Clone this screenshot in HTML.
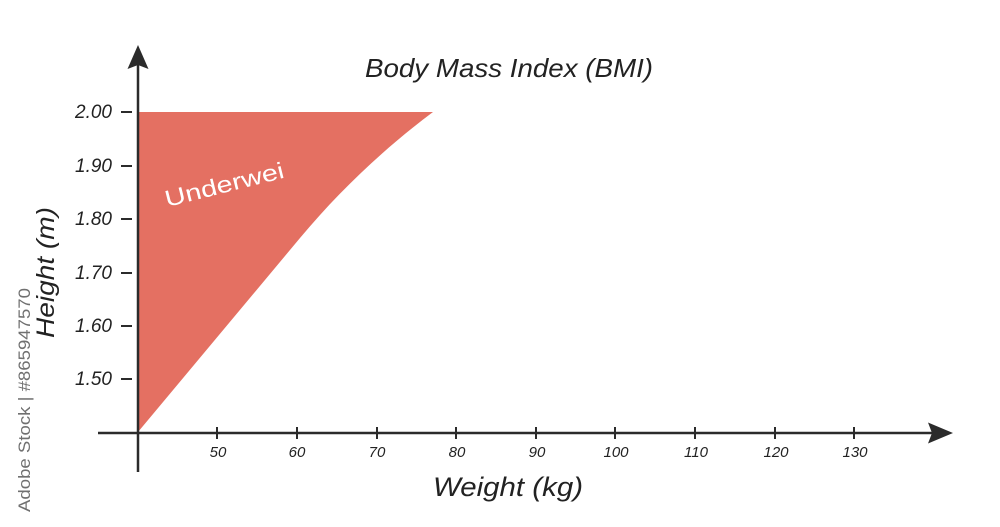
<!DOCTYPE html>
<html><head><meta charset="utf-8"><style>
html,body{margin:0;padding:0;background:#fff;}
svg{display:block;}
text{font-family:"Liberation Sans",sans-serif;fill:#222;}
</style></head><body>
<svg width="1000" height="527" viewBox="0 0 1000 527" xmlns="http://www.w3.org/2000/svg">
<rect width="1000" height="527" fill="#fff"/>
<!-- fill region -->
<path d="M138,112 L433,112 C385,148 340,190 300,238 L138,432 Z" fill="#E47062"/>
<text x="167" y="207" font-size="23" fill="#fff" style="fill:#fff" transform="rotate(-14 167 207)" textLength="122" lengthAdjust="spacingAndGlyphs">Underwei</text>
<!-- axes -->
<line x1="138" y1="62" x2="138" y2="472" stroke="#2b2b2b" stroke-width="2.5"/>
<line x1="98" y1="433" x2="935" y2="433" stroke="#2b2b2b" stroke-width="2.5"/>
<path d="M138,45 L148.5,69 L138,65 L127.5,69 Z" fill="#2b2b2b"/>
<path d="M953,433 L928,422.5 L932,433 L928,443.5 Z" fill="#2b2b2b"/>
<!-- y ticks -->
<g stroke="#2b2b2b" stroke-width="2">
<line x1="121" y1="112" x2="132" y2="112"/>
<line x1="121" y1="166" x2="132" y2="166"/>
<line x1="121" y1="219" x2="132" y2="219"/>
<line x1="121" y1="273" x2="132" y2="273"/>
<line x1="121" y1="326" x2="132" y2="326"/>
<line x1="121" y1="379" x2="132" y2="379"/>
</g>
<g font-size="19" font-style="italic" text-anchor="end">
<text x="112" y="118">2.00</text>
<text x="112" y="172">1.90</text>
<text x="112" y="225">1.80</text>
<text x="112" y="279">1.70</text>
<text x="112" y="332">1.60</text>
<text x="112" y="385">1.50</text>
</g>
<!-- x ticks -->
<g stroke="#2b2b2b" stroke-width="2">
<line x1="217" y1="427" x2="217" y2="439"/>
<line x1="297" y1="427" x2="297" y2="439"/>
<line x1="377" y1="427" x2="377" y2="439"/>
<line x1="456" y1="427" x2="456" y2="439"/>
<line x1="536" y1="427" x2="536" y2="439"/>
<line x1="615" y1="427" x2="615" y2="439"/>
<line x1="695" y1="427" x2="695" y2="439"/>
<line x1="775" y1="427" x2="775" y2="439"/>
<line x1="854" y1="427" x2="854" y2="439"/>
</g>
<g font-size="15" font-style="italic" text-anchor="middle">
<text x="218" y="457">50</text>
<text x="297" y="457">60</text>
<text x="377" y="457">70</text>
<text x="457" y="457">80</text>
<text x="537" y="457">90</text>
<text x="616" y="457">100</text>
<text x="696" y="457">110</text>
<text x="776" y="457">120</text>
<text x="855" y="457">130</text>
</g>
<!-- titles -->
<text x="365" y="77" font-size="26" font-style="italic" textLength="288" lengthAdjust="spacingAndGlyphs">Body Mass Index (BMI)</text>
<text x="433" y="496" font-size="27" font-style="italic" textLength="150" lengthAdjust="spacingAndGlyphs">Weight (kg)</text>
<text x="0" y="0" font-size="25" font-style="italic" transform="translate(54 338) rotate(-90)" textLength="131" lengthAdjust="spacingAndGlyphs">Height (m)</text>
<!-- watermark -->
<text x="0" y="0" font-size="17" style="fill:#707070" transform="translate(30 512) rotate(-90)" textLength="224" lengthAdjust="spacingAndGlyphs">Adobe Stock | #865947570</text>
</svg>
</body></html>
